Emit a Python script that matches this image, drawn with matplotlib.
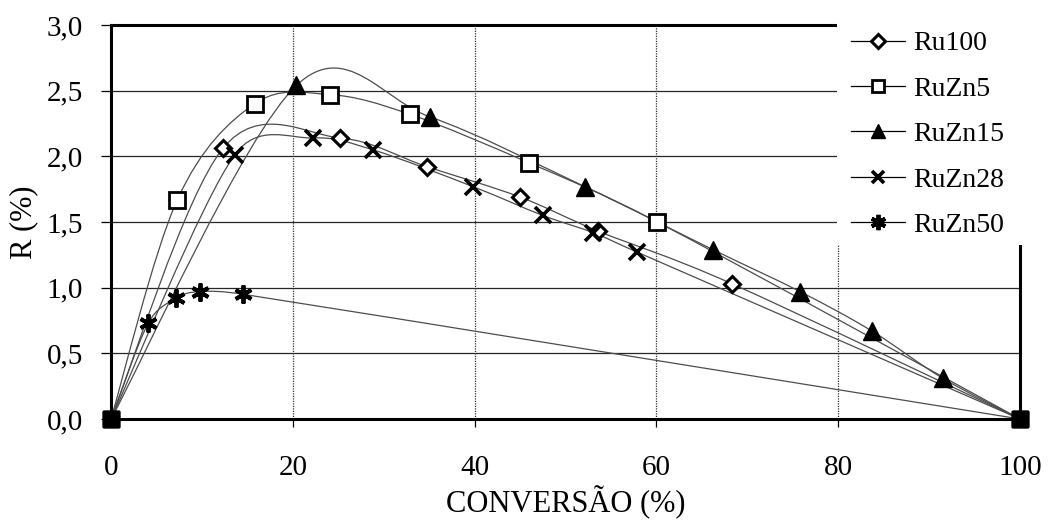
#!/usr/bin/env python3
"""
R (%) versus conversion (%) for the Ru and RuZn catalysts, drawn with
Excel-style smoothed lines and a legend on the upper right.
"""

import math

import matplotlib
matplotlib.use("Agg")
import matplotlib.pyplot as plt
from matplotlib.lines import Line2D
from matplotlib.patches import PathPatch, Rectangle
from matplotlib.path import Path
from matplotlib.ticker import FuncFormatter

# Series: conversion (%) and R (%)
RU100_X = [0, 12.3, 25.2, 34.8, 45.0, 53.6, 68.3, 100]
RU100_Y = [0, 2.06, 2.14, 1.92, 1.69, 1.43, 1.03, 0]

RUZN5_X = [0, 7.3, 15.8, 24.1, 32.9, 46.0, 60.1, 100]
RUZN5_Y = [0, 1.67, 2.40, 2.47, 2.32, 1.95, 1.50, 0]

RUZN15_X = [0, 20.4, 35.1, 52.1, 66.2, 75.8, 83.7, 91.5, 100]
RUZN15_Y = [0, 2.54, 2.30, 1.77, 1.29, 0.97, 0.67, 0.31, 0]

RUZN28_X = [0, 13.6, 22.2, 28.8, 39.8, 47.5, 53.0, 57.9, 100]
RUZN28_Y = [0, 2.01, 2.14, 2.05, 1.77, 1.55, 1.42, 1.27, 0]

RUZN50_X = [0, 4.1, 7.2, 9.8, 14.5, 100]
RUZN50_Y = [0, 0.73, 0.92, 0.97, 0.95, 0]

LABELS = ["Ru100", "RuZn5", "RuZn15", "RuZn28", "RuZn50"]

X_TICKS = [0, 20, 40, 60, 80, 100]
Y_TICKS = [0.0, 0.5, 1.0, 1.5, 2.0, 2.5, 3.0]

# Marker look for each series
MARKERS = [
    dict(marker="D", markersize=8.5, markerfacecolor="white", markeredgewidth=2.2),
    dict(marker="s", markersize=11, markerfacecolor="white", markeredgewidth=2.0),
    dict(marker="^", markersize=12.5, markerfacecolor="black", markeredgewidth=1.0),
    dict(marker="x", markersize=11, markeredgewidth=2.6),
    dict(marker=(6, 2, 0), markersize=13, markeredgewidth=2.8),
]

SERIF = ["Liberation Serif", "DejaVu Serif"]
TICK_FONTSIZE = 21
LABEL_FONTSIZE = 22
LEGEND_FONTSIZE = 20
CURVE_COLOR = "0.3"


def smooth_path(ax, xs, ys):
    """Bezier path through the points, like a spreadsheet smoothed line.

    Control points are worked out in display space; each handle is capped
    at half its segment so short steps next to long ones do not loop.
    """
    pts = [tuple(p) for p in ax.transData.transform(list(zip(xs, ys)))]
    n = len(pts)

    def handle(a, b, seg_len):
        dx, dy = (b[0] - a[0]) / 6, (b[1] - a[1]) / 6
        length = math.hypot(dx, dy)
        cap = seg_len / 2
        if length > cap and length > 0:
            dx, dy = dx * cap / length, dy * cap / length
        return dx, dy

    verts = [pts[0]]
    codes = [Path.MOVETO]
    for i in range(n - 1):
        p0 = pts[max(i - 1, 0)]
        p1 = pts[i]
        p2 = pts[i + 1]
        p3 = pts[min(i + 2, n - 1)]
        seg = math.hypot(p2[0] - p1[0], p2[1] - p1[1])
        h1 = handle(p0, p2, seg)
        h2 = handle(p1, p3, seg)
        verts += [(p1[0] + h1[0], p1[1] + h1[1]),
                  (p2[0] - h2[0], p2[1] - h2[1]),
                  p2]
        codes += [Path.CURVE4] * 3
    data_verts = ax.transData.inverted().transform(verts)
    return Path(data_verts, codes)


def main():
    fig = plt.figure(figsize=(10.48, 5.21), dpi=100)
    ax = fig.add_axes([0.1059, 0.1958, 0.8674, 0.7562])
    ax.set_xlim(0, 100)
    ax.set_ylim(0, 3.0)

    series = [
        (RU100_X, RU100_Y),
        (RUZN5_X, RUZN5_Y),
        (RUZN15_X, RUZN15_Y),
        (RUZN28_X, RUZN28_Y),
        (RUZN50_X, RUZN50_Y),
    ]

    for (xs, ys), style in zip(series, MARKERS):
        ax.add_patch(PathPatch(smooth_path(ax, xs, ys), facecolor="none",
                               edgecolor=CURVE_COLOR, linewidth=0.9, zorder=3))
        ax.plot(xs[1:-1], ys[1:-1], linestyle="none", color="black",
                zorder=4, clip_on=False, **style)

    # shared end points of every series
    ends_x = [p for xs, _ in series for p in (xs[0], xs[-1])]
    ends_y = [p for _, ys in series for p in (ys[0], ys[-1])]
    ax.plot(ends_x, ends_y, linestyle="none", marker="s", markersize=12,
            color="black", zorder=5, clip_on=False)

    ax.set_xticks(X_TICKS)
    ax.set_yticks(Y_TICKS)
    ax.yaxis.set_major_formatter(FuncFormatter(lambda v, _: f"{v:.1f}".replace(".", ",")))

    # grid: solid horizontals, dotted verticals
    for y in Y_TICKS[1:-1]:
        ax.axhline(y, color="0.15", linewidth=0.9, zorder=1)
    for x in X_TICKS[1:-1]:
        ax.axvline(x, color="0.2", linewidth=0.9, linestyle=(0, (1, 1)), zorder=1)

    for side in ["left", "right", "top", "bottom"]:
        ax.spines[side].set_linewidth(2.2)
        ax.spines[side].set_color("black")

    ax.tick_params(axis="y", direction="out", length=7, width=0.9, pad=13,
                   labelsize=TICK_FONTSIZE)
    ax.tick_params(axis="x", direction="out", length=6, width=0.9, pad=20,
                   labelsize=TICK_FONTSIZE)
    for lab in ax.get_xticklabels() + ax.get_yticklabels():
        lab.set_family(SERIF)

    ax.set_xlabel("CONVERSÃO (%)", family=SERIF, fontsize=LABEL_FONTSIZE, labelpad=3)
    ax.set_ylabel("R (%)", family=SERIF, fontsize=LABEL_FONTSIZE, labelpad=6)

    # white block behind the legend hides grid and frame there
    ax.add_patch(Rectangle((0.799, 0.4416), 0.4, 0.7, transform=ax.transAxes,
                           facecolor="white", edgecolor="none", zorder=6,
                           clip_on=False))

    handles = [Line2D([], [], color="black", linewidth=0.9, **style) for style in MARKERS]
    leg = ax.legend(handles, LABELS, loc="upper left",
                    bbox_to_anchor=(848 / 1048, 1 - 28 / 521),
                    bbox_transform=fig.transFigure, frameon=False,
                    prop={"family": SERIF, "size": LEGEND_FONTSIZE},
                    handlelength=1.95, handletextpad=0.3, labelspacing=0.72,
                    borderpad=0.1, borderaxespad=0.0, markerscale=0.85)
    leg.set_zorder(7)

    fig.savefig("out.png", dpi=100)


if __name__ == "__main__":
    main()
